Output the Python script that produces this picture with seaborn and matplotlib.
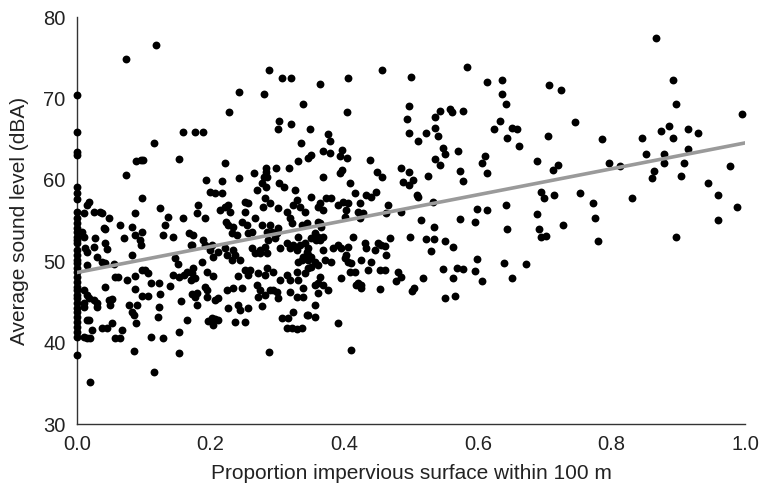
import matplotlib
matplotlib.use("Agg")
import matplotlib.pyplot as plt
import seaborn as sns
import pandas as pd
import numpy as np

# ---- data (proportion impervious, average sound level dBA) ----
pts_upper_left = [
    (0.0, 70.4), (0.073, 74.9), (0.118, 76.6), (0.0, 65.9), (0.0, 63.4), (0.0, 63.1),
    (0.243, 70.8), (0.228, 68.3), (0.159, 65.9), (0.177, 65.9), (0.189, 65.9), (0.115, 64.5),
    (0.088, 62.3), (0.096, 62.4), (0.099, 62.4), (0.153, 62.6), (0.222, 62.1), (0.073, 60.6),
    (0.0, 59.1), (0.193, 60.0), (0.243, 60.2), (0.217, 59.9),
]
pts_upper_mid = [
    (0.287, 73.5), (0.307, 72.5), (0.320, 72.5), (0.364, 71.8), (0.406, 72.5), (0.457, 73.5),
    (0.500, 72.6), (0.280, 70.5), (0.338, 69.3), (0.404, 68.3), (0.497, 69.1), (0.494, 67.5),
    (0.497, 65.7), (0.302, 67.2), (0.301, 66.2), (0.320, 66.9), (0.349, 66.2), (0.376, 65.6),
    (0.379, 64.8), (0.335, 64.5), (0.368, 63.5), (0.379, 63.3), (0.397, 63.7), (0.394, 62.9),
    (0.404, 62.7), (0.350, 63.0), (0.346, 62.7), (0.331, 62.3), (0.439, 62.4), (0.317, 61.5),
    (0.298, 61.5), (0.283, 61.5), (0.283, 61.0), (0.280, 60.3), (0.284, 60.3), (0.277, 59.6),
    (0.283, 59.1), (0.265, 60.8), (0.302, 59.6), (0.310, 59.1), (0.368, 60.3), (0.409, 59.6),
    (0.397, 61.2), (0.394, 60.8), (0.449, 61.0), (0.457, 60.3), (0.485, 61.5), (0.497, 61.0),
    (0.488, 59.7), (0.497, 59.4), (0.503, 60.0),
]
pts_upper_right = [
    (0.584, 73.9), (0.614, 72.0), (0.636, 72.3), (0.707, 71.6), (0.725, 71.0), (0.636, 70.5),
    (0.642, 69.3), (0.536, 67.7), (0.543, 68.5), (0.558, 68.7), (0.561, 68.3), (0.578, 68.5),
    (0.536, 66.4), (0.540, 65.4), (0.522, 65.7), (0.510, 64.8), (0.548, 63.9), (0.551, 63.2),
    (0.536, 62.6), (0.543, 61.8), (0.570, 63.5), (0.573, 61.1), (0.578, 59.9), (0.525, 60.5),
    (0.509, 58.1), (0.510, 57.9), (0.533, 57.3), (0.611, 62.9), (0.606, 62.1), (0.614, 60.8),
    (0.633, 67.2), (0.624, 66.2), (0.644, 65.1), (0.651, 66.4), (0.659, 66.2), (0.662, 64.2),
    (0.705, 65.4), (0.746, 67.1), (0.689, 62.3), (0.713, 61.2), (0.720, 61.8), (0.695, 58.5),
    (0.699, 57.8), (0.714, 58.1), (0.753, 58.4), (0.599, 56.4), (0.614, 56.3), (0.642, 56.9),
    (0.689, 55.8),
]
pts_far_right = [
    (0.867, 77.4), (0.892, 72.3), (0.897, 69.3), (0.996, 68.1), (0.786, 65.0), (0.846, 65.1),
    (0.874, 66.0), (0.886, 66.6), (0.892, 65.1), (0.915, 66.2), (0.930, 65.7), (0.852, 63.2),
    (0.879, 63.2), (0.879, 62.1), (0.915, 63.8), (0.909, 62.1), (0.796, 62.1), (0.813, 61.7),
    (0.864, 61.1), (0.861, 60.2), (0.904, 60.5), (0.978, 61.7), (0.945, 59.6), (0.960, 58.1),
    (0.988, 56.7), (0.772, 57.1), (0.775, 55.3), (0.831, 57.8), (0.960, 55.1), (0.780, 52.5),
    (0.897, 53.0),
]
pts_lower_right = [
    (0.515, 55.1), (0.573, 55.2), (0.596, 54.8), (0.534, 54.2), (0.644, 54.0), (0.692, 54.0),
    (0.695, 53.0), (0.702, 53.1), (0.728, 54.4), (0.499, 53.0), (0.522, 52.7), (0.534, 52.7),
    (0.551, 52.5), (0.563, 51.7), (0.530, 51.3), (0.599, 50.3), (0.639, 49.8), (0.672, 49.7),
    (0.548, 49.0), (0.569, 49.2), (0.578, 49.0), (0.596, 48.8), (0.518, 47.9), (0.563, 47.9),
    (0.606, 47.6), (0.651, 47.9), (0.504, 46.7), (0.501, 46.3), (0.551, 45.5), (0.566, 45.7),
]
zero_column = [58.4, 57.6, 56.0, 55.3, 54.7, 54.1, 53.6, 53.0, 52.6, 52.2, 51.4, 50.8, 50.1,
               49.8, 49.2, 48.7, 48.1, 47.4, 46.8, 46.5, 45.8, 45.5, 44.9, 44.3, 43.8, 43.1,
               42.5, 41.9, 41.3, 40.7, 38.5]
pts_left = [
    (0.007, 53.6), (0.010, 53.0), (0.010, 55.9), (0.015, 56.9), (0.018, 57.3), (0.012, 51.6),
    (0.015, 51.1), (0.015, 49.5), (0.010, 46.5), (0.010, 44.9), (0.010, 44.4), (0.015, 45.8),
    (0.018, 45.5), (0.010, 40.7), (0.015, 40.6), (0.019, 40.6), (0.022, 41.5), (0.018, 42.8),
    (0.025, 56.0), (0.037, 55.9), (0.034, 56.0), (0.048, 55.3), (0.064, 54.4), (0.082, 54.2),
    (0.087, 55.9), (0.097, 57.8), (0.124, 56.5), (0.136, 55.4), (0.132, 54.4), (0.129, 53.2),
    (0.144, 53.0), (0.159, 55.3), (0.040, 54.1), (0.042, 54.0), (0.027, 52.9), (0.025, 51.7),
    (0.042, 52.2), (0.045, 51.5), (0.070, 52.9), (0.087, 53.2), (0.097, 53.6), (0.094, 52.6),
    (0.096, 52.0), (0.030, 50.5), (0.037, 49.9), (0.042, 49.8), (0.055, 49.7), (0.082, 50.8),
    (0.147, 50.4), (0.151, 49.7), (0.144, 48.3), (0.153, 48.1), (0.160, 48.3), (0.165, 48.7),
    (0.171, 52.0), (0.057, 48.1), (0.061, 48.1), (0.075, 47.7), (0.087, 48.2), (0.097, 48.9),
    (0.102, 48.9), (0.106, 48.6), (0.111, 47.3), (0.123, 47.3), (0.042, 46.8), (0.087, 46.6),
    (0.097, 45.7), (0.106, 45.7), (0.124, 46.0), (0.139, 47.0), (0.025, 45.2), (0.030, 44.9),
    (0.030, 44.4), (0.048, 45.2), (0.049, 44.6), (0.052, 45.4), (0.015, 42.8), (0.037, 41.8),
    (0.045, 41.8), (0.052, 42.4), (0.057, 40.6), (0.064, 40.6), (0.067, 41.5), (0.078, 44.6),
    (0.082, 43.8), (0.085, 43.4), (0.090, 44.6), (0.088, 42.4), (0.111, 40.7), (0.129, 40.6),
    (0.123, 44.4), (0.121, 43.1), (0.156, 45.1), (0.153, 41.3), (0.165, 42.8), (0.085, 39.0),
    (0.153, 38.7), (0.115, 36.4), (0.019, 35.2), (0.168, 53.5), (0.171, 47.7), (0.172, 46.0),
]
pts_center_left = [
    (0.199, 58.5), (0.207, 58.4), (0.217, 58.4), (0.269, 58.7), (0.181, 56.9), (0.180, 55.9),
    (0.192, 55.3), (0.214, 56.3), (0.222, 56.7), (0.226, 56.9), (0.229, 56.0), (0.223, 54.8),
    (0.226, 54.4), (0.234, 54.2), (0.232, 53.5), (0.240, 53.2), (0.251, 57.3), (0.256, 57.1),
    (0.251, 56.0), (0.247, 54.8), (0.254, 54.4), (0.256, 53.5), (0.262, 53.6), (0.266, 55.3),
    (0.277, 54.4), (0.278, 56.7), (0.281, 57.8), (0.289, 57.1), (0.289, 54.4), (0.292, 53.6),
    (0.301, 56.5), (0.301, 54.1), (0.299, 53.5), (0.314, 56.0), (0.319, 55.3), (0.322, 54.7),
    (0.323, 56.9), (0.329, 57.5), (0.334, 56.7), (0.341, 56.0), (0.344, 54.7), (0.337, 54.4),
    (0.326, 58.7), (0.174, 53.2), (0.172, 52.0), (0.189, 52.6), (0.192, 52.0), (0.202, 52.0),
    (0.199, 51.4), (0.211, 51.1), (0.204, 50.5), (0.222, 51.6), (0.225, 50.8), (0.234, 51.4),
    (0.237, 50.8), (0.232, 50.1), (0.244, 50.1), (0.187, 49.9), (0.262, 51.6), (0.266, 51.0),
    (0.274, 51.4), (0.274, 51.0), (0.281, 51.7), (0.284, 51.0), (0.286, 52.6), (0.284, 53.6),
    (0.296, 52.9), (0.304, 51.6), (0.314, 52.2), (0.319, 51.6), (0.323, 52.0), (0.329, 51.4),
    (0.334, 52.0), (0.331, 53.0), (0.341, 52.2), (0.344, 51.1), (0.338, 50.5), (0.346, 51.6),
    (0.174, 49.2), (0.172, 48.6), (0.177, 47.9), (0.195, 48.7), (0.204, 48.2), (0.192, 46.8),
    (0.195, 46.5), (0.180, 46.1), (0.177, 45.6), (0.195, 45.6), (0.180, 44.6), (0.207, 45.2),
    (0.211, 45.5), (0.225, 46.5), (0.234, 46.7), (0.247, 46.7), (0.226, 44.3), (0.241, 44.6),
    (0.244, 44.0), (0.256, 44.3), (0.277, 44.5), (0.269, 47.1), (0.274, 46.5), (0.271, 45.6),
    (0.281, 45.8), (0.289, 46.5), (0.299, 46.2), (0.301, 45.5), (0.293, 46.5), (0.304, 47.7),
    (0.319, 47.7), (0.314, 48.3), (0.329, 48.7), (0.331, 47.7), (0.341, 48.6), (0.338, 46.7),
    (0.329, 45.6), (0.338, 45.6), (0.346, 49.2), (0.319, 46.2), (0.337, 50.1), (0.331, 49.9),
    (0.284, 49.2), (0.293, 48.7), (0.281, 48.3), (0.271, 48.6), (0.259, 48.9), (0.251, 48.9),
    (0.256, 48.3), (0.241, 48.2), (0.196, 42.7), (0.202, 43.0), (0.207, 42.9), (0.204, 42.2),
    (0.211, 42.8), (0.237, 42.5), (0.251, 42.5), (0.287, 38.8), (0.307, 43.0), (0.316, 43.0),
    (0.323, 43.8), (0.314, 41.8), (0.322, 41.8), (0.329, 41.7), (0.337, 41.8), (0.344, 43.4),
]
pts_center_right = [
    (0.350, 57.9), (0.373, 57.8), (0.380, 57.8), (0.364, 57.1), (0.361, 56.7), (0.368, 56.3),
    (0.391, 56.9), (0.398, 57.3), (0.406, 57.1), (0.403, 56.3), (0.401, 55.4), (0.416, 58.4),
    (0.424, 57.1), (0.433, 58.1), (0.440, 57.9), (0.448, 58.5), (0.421, 56.0), (0.428, 55.9),
    (0.424, 55.3), (0.466, 56.9), (0.463, 55.9), (0.485, 56.0), (0.361, 54.8), (0.364, 54.7),
    (0.365, 54.2), (0.356, 53.5), (0.361, 53.0), (0.368, 53.0), (0.364, 52.6), (0.358, 52.6),
    (0.350, 52.9), (0.413, 53.0), (0.431, 52.2), (0.433, 51.6), (0.446, 51.4), (0.451, 52.2),
    (0.455, 52.0), (0.461, 51.9), (0.469, 52.9), (0.406, 51.7), (0.395, 51.6), (0.383, 51.6),
    (0.368, 51.4), (0.391, 52.0), (0.403, 50.8), (0.401, 50.4), (0.406, 49.9), (0.410, 49.8),
    (0.380, 49.9), (0.371, 50.1), (0.356, 49.9), (0.361, 49.5), (0.350, 49.3), (0.346, 50.1),
    (0.346, 50.8), (0.350, 50.5), (0.416, 48.7), (0.409, 48.7), (0.425, 50.1), (0.440, 49.9),
    (0.436, 48.9), (0.454, 48.9), (0.461, 48.9), (0.463, 50.8), (0.481, 48.7), (0.485, 48.1),
    (0.478, 47.6), (0.395, 47.9), (0.364, 48.1), (0.361, 47.3), (0.356, 47.1), (0.368, 47.1),
    (0.376, 46.5), (0.361, 46.1), (0.421, 47.3), (0.425, 47.1), (0.425, 46.7), (0.418, 47.1),
    (0.454, 46.6), (0.356, 44.6), (0.346, 43.4), (0.356, 43.1), (0.391, 42.4), (0.410, 39.1),
]

x_ticks = [0.0, 0.2, 0.4, 0.6, 0.8, 1.0]
y_ticks = [30, 40, 50, 60, 70, 80]
x_label = "Proportion impervious surface within 100 m"
y_label = "Average sound level (dBA)"

# ---- assemble ----
all_pts = (pts_upper_left + pts_upper_mid + pts_upper_right + pts_far_right +
           pts_lower_right + [(0.0, v) for v in zero_column] + pts_left +
           pts_center_left + pts_center_right)
df = pd.DataFrame(all_pts, columns=["impervious", "sound"])

sns.set_style("white")
plt.rcParams["font.family"] = ["Liberation Sans Narrow", "Liberation Sans", "DejaVu Sans"]

fig = plt.figure(figsize=(7.61, 4.88), dpi=100)
ax = fig.add_axes([0.101, 0.131, 0.878, 0.834])

sns.regplot(data=df, x="impervious", y="sound", ax=ax, ci=None,
            scatter_kws=dict(s=32, color="black", linewidths=0, alpha=1, clip_on=False,
                             zorder=3),
            line_kws=dict(color="#9a9a9a", linewidth=2.6, zorder=4), truncate=False)

ax.set_xlim(0, 1.0)
ax.set_ylim(30, 80)
ax.set_xticks(x_ticks)
ax.set_xticklabels([f"{t:.1f}" for t in x_ticks])
ax.set_yticks(y_ticks)
ax.set_yticklabels([str(t) for t in y_ticks])
ax.set_xlabel(x_label, fontsize=15, color="#222222", labelpad=7)
ax.set_ylabel(y_label, fontsize=15, color="#222222", labelpad=10)
ax.tick_params(axis="both", direction="out", length=5, width=1.0, color="#333333",
               labelsize=14.5, labelcolor="#222222", pad=3)
for side in ["top", "right"]:
    ax.spines[side].set_visible(False)
for side in ["left", "bottom"]:
    ax.spines[side].set_color("#333333")
    ax.spines[side].set_linewidth(1.0)

fig.savefig("out.png", dpi=100)
